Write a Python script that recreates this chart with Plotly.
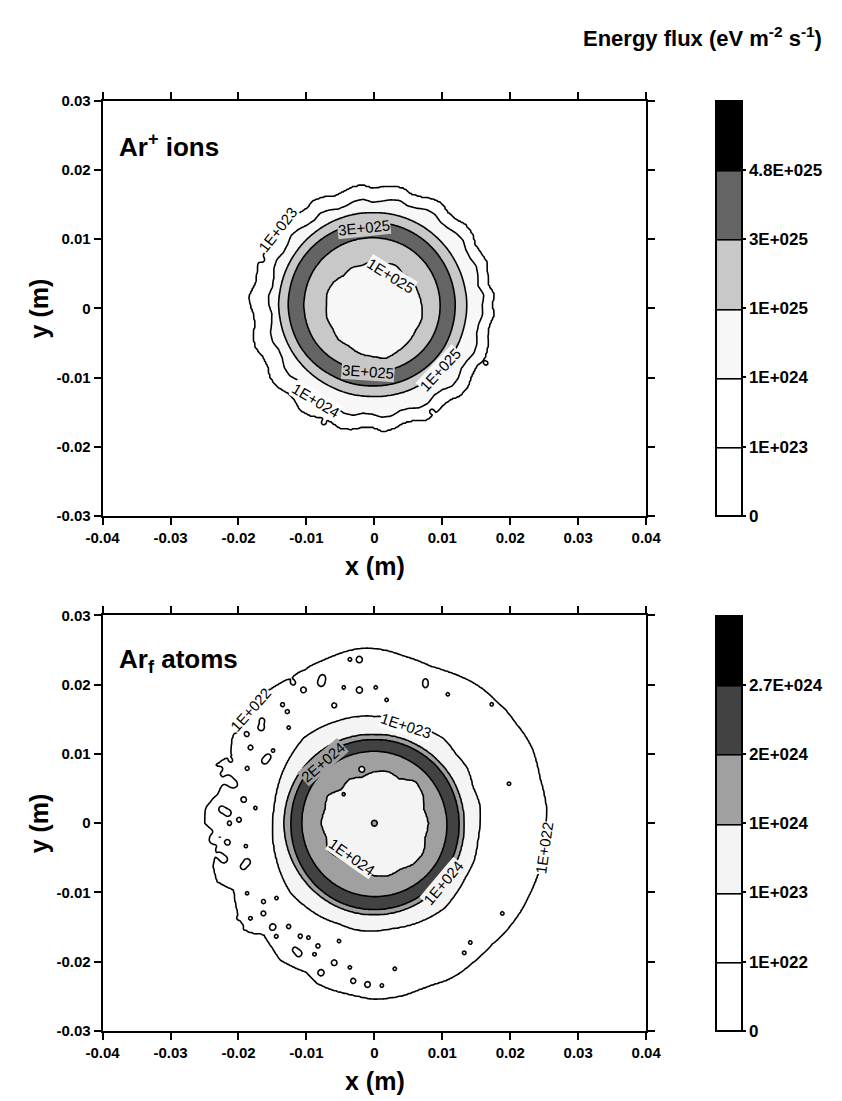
import numpy as np
import plotly.graph_objects as go

FONT = "Liberation Sans, Arial, Helvetica, sans-serif"
W, H = 842, 1101

# ---------------------------------------------------------------- Ar+ ions
ION_LEVELS = [0.0, 1e23, 1e24, 1e25, 3e25, 4.8e25]
ION_COLORS = ["#ffffff", "#ffffff", "#f7f7f7", "#c8c8c8", "#646464", "#000000"]
ION_CENTER_MM = (-0.3, 0.5)
ION_CORE = 5e24
ION_PEAK = 4.2e25
A5 = list(range(0, 360, 5))
A10 = list(range(0, 360, 10))
A15 = list(range(0, 360, 15))
A30 = list(range(0, 360, 30))

# contour radii (mm) versus polar angle, from the centre outwards
ION_R_1E25_IN = [7.3, 7.0, 6.9, 6.4, 6.7, 6.2, 6.3, 5.9, 6.2, 6.0, 6.6, 6.9,
                 6.8, 7.0, 6.8, 7.1, 6.9, 7.3, 7.5, 8.0, 7.7, 7.6, 7.4, 7.6]
ION_R_3E25_IN = [10.0, 9.9, 9.8, 9.7, 9.8, 10.0, 10.1, 10.0, 9.7, 9.6, 9.8, 10.0]
ION_R_3E25_OUT = [12.2, 12.1, 12.0, 11.9, 12.0, 12.3, 12.4, 12.2, 11.8, 11.7, 11.9, 12.2]
ION_R_1E25_OUT = [13.9, 13.7, 13.5, 13.3, 13.4, 13.6, 13.8, 13.6, 13.3, 13.2, 13.5, 13.8]
ION_R_1E24 = [16.2, 16.5, 15.8, 16.1, 16.3, 15.9, 15.9, 16.3, 16.1, 15.7, 15.6, 16.0,
              15.9, 15.4, 15.2, 15.6, 15.4, 15.0, 14.8, 15.3, 15.2, 14.8, 14.7, 15.1,
              15.3, 14.9, 15.0, 15.4, 15.6, 15.2, 15.1, 15.5, 15.4, 15.0, 14.9, 15.3,
              15.2, 14.8, 15.0, 15.5, 15.6, 15.2, 15.3, 15.8, 15.9, 15.4, 15.5, 16.0,
              16.1, 15.6, 15.7, 16.2, 16.2, 15.7, 15.8, 16.3, 16.3, 15.8, 15.9, 16.4,
              16.4, 15.9, 16.0, 16.6, 16.5, 16.0, 16.1, 16.5, 16.4, 15.9, 15.9, 16.3]
ION_R_1E23 = [17.6, 17.9, 17.2, 17.5, 17.9, 17.6, 17.4, 17.9, 17.9, 17.4, 17.3, 17.8,
              17.6, 17.1, 16.9, 17.4, 17.3, 17.0, 16.8, 17.3, 17.2, 16.8, 16.6, 17.1,
              17.3, 16.9, 17.0, 17.5, 17.8, 17.3, 17.1, 17.6, 17.9, 17.5, 17.4, 18.0,
              17.9, 17.4, 17.5, 18.1, 18.2, 17.7, 17.7, 18.3, 18.3, 17.8, 17.8, 18.5,
              18.4, 17.9, 17.9, 18.4, 18.2, 17.7, 17.6, 18.3, 18.1, 17.6, 17.7, 18.4,
              18.3, 17.8, 17.8, 18.4, 18.3, 17.8, 17.7, 18.2, 18.0, 17.5, 17.4, 17.9]
# isolated closed contours: x (mm), y (mm), loop radius (mm), level
ION_SPOTS = [(0.2, 17.3, 0.3, 1e23), (-18.3, 1.5, 0.3, 1e23), (16.5, -8.0, 0.3, 1e23),
             (8.4, -14.8, 0.3, 1e23), (-7.5, -16.6, 0.3, 1e23), (-16.3, 6.9, 0.4, 1e23),
             (-14.7, 10.6, 0.25, 1e23)]

# ---------------------------------------------------------------- Ar_f atoms
ATOM_LEVELS = [0.0, 1e22, 1e23, 1e24, 2e24, 2.7e24]
ATOM_COLORS = ["#ffffff", "#ffffff", "#f4f4f4", "#a0a0a0", "#424242", "#000000"]
ATOM_CENTER_MM = (0.0, 0.0)
ATOM_CORE = 6e23
ATOM_PEAK = 2.4e24
ATOM_R_1E24_IN = [8.0, 7.6, 8.3, 8.6, 7.4, 7.8, 7.5, 6.9, 7.4, 6.9, 8.0, 7.6,
                  7.9, 7.4, 7.9, 7.2, 7.0, 7.3, 7.6, 7.9, 7.7, 8.3, 8.4, 7.8]
ATOM_R_2E24_IN = [10.7, 10.5, 10.4, 10.4, 10.5, 10.7, 10.7, 10.6, 10.6, 10.6, 10.7, 10.8]
ATOM_R_2E24_OUT = [12.5, 12.4, 12.2, 12.1, 12.2, 12.3, 12.3, 12.4, 12.5, 12.5, 12.5, 12.6]
ATOM_R_1E24_OUT = [13.2, 13.1, 12.9, 12.8, 13.0, 13.2, 13.3, 13.2, 13.2, 13.2, 13.2, 13.3]
ATOM_R_1E23 = [15.5, 15.7, 15.4, 15.8, 15.6, 15.9, 15.5, 15.3, 15.5, 15.4, 15.6, 15.7,
               15.9, 16.1, 15.7, 15.4, 15.1, 14.9, 14.9, 15.1, 15.3, 15.6, 15.9, 15.7,
               15.6, 15.4, 15.6, 15.5, 15.4, 15.6, 15.8, 16.0, 15.7, 15.5, 15.6, 15.4]
ATOM_R_1E22 = [25.2, 25.4, 25.3, 25.2, 25.4, 25.6, 25.5, 25.3, 25.3, 25.1, 25.1, 24.9,
               24.6, 24.3, 24.1, 24.3, 24.5, 24.9, 25.2, 25.3, 25.1, 24.8, 24.6, 24.5,
               24.3, 24.5, 24.7, 24.2, 24.6, 23.8, 24.2, 23.2, 24.8, 22.9, 23.6, 24.9,
               24.9, 22.6, 23.8, 24.5, 24.6, 22.8, 23.5, 24.2, 24.3, 22.9, 23.4, 24.1,
               23.9, 23.7, 24.6, 24.8, 24.9, 25.1, 25.4, 25.3, 25.2, 24.9, 24.8, 25.0,
               25.0, 24.8, 24.7, 24.6, 24.8, 24.9, 25.0, 25.0, 25.1, 25.2, 25.3, 25.2]
ATOM_SPOTS = [
    (-2.2, 23.5, 0.45, 1e22), (-3.6, 23.6, 0.25, 1e22), (-10.2, 22.1, 0.3, 1e22),
    (-11.9, 20.2, 0.35, 1e22), (-10.4, 19.2, 0.4, 1e22), (-7.8, 20.2, 0.5, 1e22),
    (-7.6, 21.0, 0.35, 1e22), (-4.5, 19.6, 0.25, 1e22), (-2.2, 19.2, 0.45, 1e22),
    (0.2, 19.6, 0.25, 1e22), (7.5, 19.9, 0.35, 1e22), (7.5, 20.5, 0.3, 1e22),
    (10.8, 18.6, 0.25, 1e22), (17.2, 17.1, 0.25, 1e22), (-5.9, 17.0, 0.35, 1e22),
    (1.8, 17.8, 0.25, 1e22), (-13.5, 17.1, 0.3, 1e22), (-12.8, 16.1, 0.3, 1e22),
    (-12.6, 13.8, 0.25, 1e22), (-16.6, 13.8, 0.45, 1e22), (-16.5, 14.8, 0.35, 1e22),
    (-18.7, 12.8, 0.35, 1e22), (-20.6, 12.8, 0.3, 1e22), (-18.2, 10.9, 0.35, 1e22),
    (-14.9, 10.5, 0.25, 1e22), (-16.1, 9.0, 0.45, 1e22), (-15.6, 9.6, 0.35, 1e22),
    (-18.7, 7.9, 0.3, 1e22), (-21.1, 9.0, 0.3, 1e22), (-22.5, 7.9, 0.35, 1e22),
    (-20.6, 5.7, 0.6, 1e22), (-21.4, 6.5, 0.45, 1e22), (-22.9, 4.3, 0.5, 1e22),
    (-19.2, 3.4, 0.4, 1e22), (-17.5, 2.2, 0.25, 1e22), (-21.5, 1.5, 0.5, 1e22),
    (-22.4, 2.0, 0.4, 1e22), (-19.9, 0.5, 0.35, 1e22), (-21.3, 0.0, 0.3, 1e22),
    (-23.9, -2.3, 0.5, 1e22), (-23.2, -1.6, 0.4, 1e22), (-21.5, -2.8, 0.4, 1e22),
    (-18.9, -3.3, 0.25, 1e22), (-22.0, -5.2, 0.5, 1e22), (-22.7, -4.6, 0.35, 1e22),
    (-18.7, -5.6, 0.5, 1e22), (-19.3, -6.3, 0.35, 1e22), (-18.7, -10.1, 0.25, 1e22),
    (-16.3, -11.3, 0.3, 1e22), (-14.4, -10.8, 0.25, 1e22), (-16.3, -13.0, 0.35, 1e22),
    (-18.2, -13.7, 0.25, 1e22), (-20.1, -13.7, 0.25, 1e22), (-14.9, -14.9, 0.45, 1e22),
    (-12.6, -14.9, 0.3, 1e22), (-19.2, -15.3, 0.25, 1e22), (-16.8, -16.1, 0.25, 1e22),
    (-14.4, -16.3, 0.25, 1e22), (-10.9, -16.3, 0.3, 1e22), (-9.7, -16.5, 0.25, 1e22),
    (-8.3, -17.7, 0.3, 1e22), (-11.1, -18.7, 0.45, 1e22), (-11.7, -18.2, 0.3, 1e22),
    (-8.8, -18.9, 0.25, 1e22), (-5.9, -20.1, 0.4, 1e22), (-7.8, -21.5, 0.4, 1e22),
    (-3.6, -20.8, 0.25, 1e22), (-3.1, -22.7, 0.35, 1e22), (-1.0, -23.2, 0.4, 1e22),
    (1.1, -23.4, 0.25, 1e22), (3.0, -21.0, 0.25, 1e22), (-5.2, -17.0, 0.25, 1e22),
    (19.8, 5.7, 0.25, 1e22), (18.8, -13.0, 0.25, 1e22), (14.1, -17.2, 0.25, 1e22),
    (13.2, -18.7, 0.25, 1e22),
    (-1.9, 7.9, 0.35, 1e24), (-4.5, 4.1, 0.25, 1e24), (0.0, 0.0, 0.4, 1e24),
]

AXIS_X_TICKS = [-0.04, -0.03, -0.02, -0.01, 0.0, 0.01, 0.02, 0.03, 0.04]
AXIS_X_TEXT = ["-0.04", "-0.03", "-0.02", "-0.01", "0", "0.01", "0.02", "0.03", "0.04"]
AXIS_Y_TICKS = [-0.03, -0.02, -0.01, 0.0, 0.01, 0.02, 0.03]
AXIS_Y_TEXT = ["-0.03", "-0.02", "-0.01", "0", "0.01", "0.02", "0.03"]

GRID_STEP_MM = 0.2
xs_mm = np.arange(-40.0, 40.0 + 1e-9, GRID_STEP_MM)
ys_mm = np.arange(-30.0, 30.0 + 1e-9, GRID_STEP_MM)
XX, YY = np.meshgrid(xs_mm, ys_mm)


def sci_label(v):
    if v == 0:
        return "0"
    e = int(np.floor(np.log10(v)))
    m = v / 10.0 ** e
    return f"{m:g}E+{e:03d}"


def level_index(v, levels):
    return float(np.interp(v, levels, np.arange(len(levels))))


def ring_radius(angles, radii, theta):
    a = np.asarray(list(angles) + [angles[0] + 360.0], float)
    r = np.asarray(list(radii) + [radii[0]], float)
    return np.interp(np.mod(theta, 360.0), a, r)


def build_field(center, levels, core, peak, rings, peak_after, spots):
    """Flux field in level-index units (one unit per colour band)."""
    cx, cy = center
    dx, dy = XX - cx, YY - cy
    rr = np.hypot(dx, dy)
    th = np.degrees(np.arctan2(dy, dx))
    knot_r = [np.zeros_like(rr)]
    knot_v = [level_index(core, levels)]
    for k, (val, ang, rad) in enumerate(rings):
        knot_r.append(ring_radius(ang, rad, th))
        knot_v.append(level_index(val, levels))
        if k == peak_after:
            nxt = rings[k + 1]
            knot_r.append(0.5 * (knot_r[-1] + ring_radius(nxt[1], nxt[2], th)))
            knot_v.append(level_index(peak, levels))
    knot_r.append(np.full_like(rr, 70.0))
    knot_v.append(0.0)
    z = np.zeros_like(rr)
    for k in range(len(knot_r) - 1):
        r0, r1 = knot_r[k], knot_r[k + 1]
        m = (rr >= r0) & (rr < r1)
        t = (rr - r0) / np.maximum(r1 - r0, 1e-9)
        z = np.where(m, knot_v[k] + (knot_v[k + 1] - knot_v[k]) * t, z)
    base = z.copy()
    for sx, sy, s, lev in spots:
        i = int(np.argmin(np.abs(ys_mm - sy)))
        j = int(np.argmin(np.abs(xs_mm - sx)))
        depth = (base[i, j] - level_index(lev, levels)) / np.exp(-0.5)
        z = z - depth * np.exp(-((XX - sx) ** 2 + (YY - sy) ** 2) / (2.0 * s * s))
    return z


ion_rings = [(1e25, A15, ION_R_1E25_IN), (3e25, A30, ION_R_3E25_IN),
             (3e25, A30, ION_R_3E25_OUT), (1e25, A30, ION_R_1E25_OUT),
             (1e24, A5, ION_R_1E24), (1e23, A5, ION_R_1E23)]
atom_rings = [(1e24, A15, ATOM_R_1E24_IN), (2e24, A30, ATOM_R_2E24_IN),
              (2e24, A30, ATOM_R_2E24_OUT), (1e24, A30, ATOM_R_1E24_OUT),
              (1e23, A10, ATOM_R_1E23), (1e22, A5, ATOM_R_1E22)]

z_ion = build_field(ION_CENTER_MM, ION_LEVELS, ION_CORE, ION_PEAK, ion_rings, 1, ION_SPOTS)
z_atom = build_field(ATOM_CENTER_MM, ATOM_LEVELS, ATOM_CORE, ATOM_PEAK, atom_rings, 1, ATOM_SPOTS)

# in-line contour labels: ring number, polar angle (deg), radial shift (mm), backing colour
ION_LABELS = [(5, 142, 0.0, "#ffffff"), (2, 96, -0.7, "#c8c8c8"), (0, 58, -1.6, "#f7f7f7"),
              (1, 266, 0.0, "#c8c8c8"), (3, 317, 0.0, "#f7f7f7"), (4, 239, 0.0, "#ffffff")]
ATOM_LABELS = [(5, 138, 0.0, "#ffffff"), (4, 72, -0.5, "#ffffff"), (2, 131, -0.6, "#a0a0a0"),
               (0, 235, -1.2, "#f4f4f4"), (3, 320, 0.0, "#f4f4f4"), (5, 352, 0.0, "#ffffff")]


def px(x):
    return x / W


def py(y):
    return 1.0 - y / H


X_DOMAIN = [px(89), px(654)]
PANELS = [
    dict(z=z_ion, levels=ION_LEVELS, colors=ION_COLORS, rings=ion_rings, center=ION_CENTER_MM,
         labels=ION_LABELS, top=93, bottom=515, xa="x", ya="y",
         name="Ar<sup>+</sup> ions"),
    dict(z=z_atom, levels=ATOM_LEVELS, colors=ATOM_COLORS, rings=atom_rings, center=ATOM_CENTER_MM,
         labels=ATOM_LABELS, top=616, bottom=1038, xa="x2", ya="y2",
         name="Ar<sub>f</sub> atoms"),
]

fig = go.Figure()
annotations = []
tick_font = dict(family=FONT, size=15, color="black", weight="bold")

for n, p in enumerate(PANELS):
    nb = len(p["colors"])
    cscale = []
    for i, c in enumerate(p["colors"]):
        cscale += [[i / nb, c], [(i + 1) / nb, c]]
    top, bottom = p["top"], p["bottom"]
    fig.add_trace(go.Contour(
        x=xs_mm / 1000.0, y=ys_mm / 1000.0, z=p["z"],
        zmin=0, zmax=nb, autocontour=False,
        contours=dict(start=1, end=nb - 1, size=1, coloring="fill", showlines=True),
        line=dict(color="black", width=1.6, smoothing=0.3),
        colorscale=cscale, hoverinfo="skip", xaxis=p["xa"], yaxis=p["ya"],
        colorbar=dict(
            x=px(727), xanchor="left", xpad=0, ypad=0,
            y=py((top + bottom) / 2), yanchor="middle",
            len=(bottom - top) / H, lenmode="fraction",
            thickness=26, thicknessmode="pixels",
            outlinewidth=2, outlinecolor="black",
            tickmode="array", tickvals=list(range(nb)),
            ticktext=[sci_label(v) for v in p["levels"]],
            ticks="outside", ticklen=3, tickwidth=2, tickcolor="black",
            tickfont=dict(family=FONT, size=17, color="black", weight="bold"),
        ),
    ))
    sfx = "" if n == 0 else "2"
    axis_common = dict(showline=True, linewidth=2, linecolor="black", mirror="allticks",
                       ticks="outside", ticklen=7, tickwidth=2, tickcolor="black",
                       showgrid=False, zeroline=False, tickfont=tick_font,
                       tickmode="array", fixedrange=True)
    fig.update_layout(**{
        "xaxis" + sfx: dict(axis_common, domain=X_DOMAIN, range=[-0.04, 0.04],
                            tickvals=AXIS_X_TICKS, ticktext=AXIS_X_TEXT, anchor="y" + sfx),
        "yaxis" + sfx: dict(axis_common, domain=[py(bottom), py(top)], range=[-0.03, 0.03],
                            tickvals=AXIS_Y_TICKS, ticktext=AXIS_Y_TEXT, anchor="x" + sfx),
    })

    # contour labels placed on their rings
    cx, cy = p["center"]
    for ring, ang, dr, bg in p["labels"]:
        val, angs, rads = p["rings"][ring]
        r = float(ring_radius(angs, rads, ang)) + dr
        lx = (cx + r * np.cos(np.radians(ang))) / 1000.0
        ly = (cy + r * np.sin(np.radians(ang))) / 1000.0
        t = (ang + 90) % 180
        if t > 90:
            t -= 180
        annotations.append(dict(x=lx, y=ly, xref=p["xa"], yref=p["ya"], text=sci_label(val),
                                showarrow=False, textangle=-t, bgcolor=bg, borderpad=0,
                                font=dict(family=FONT, size=15, color="black")))

    # panel name, axis titles
    annotations.append(dict(x=px(104), y=py(top + 46), xref="paper", yref="paper",
                            text=p["name"], showarrow=False, xanchor="left", yanchor="middle",
                            font=dict(family=FONT, size=26, color="black", weight="bold")))
    annotations.append(dict(x=px(372), y=py(bottom + 51), xref="paper", yref="paper",
                            text="x (m)", showarrow=False, xanchor="center", yanchor="middle",
                            font=dict(family=FONT, size=25, color="black", weight="bold")))
    annotations.append(dict(x=px(23), y=py((top + bottom) / 2), xref="paper", yref="paper",
                            text="y (m)", showarrow=False, textangle=-90,
                            xanchor="center", yanchor="middle",
                            font=dict(family=FONT, size=25, color="black", weight="bold")))

annotations.append(dict(x=px(839), y=py(28), xref="paper", yref="paper",
                        text="Energy flux (eV m<sup>-2</sup> s<sup>-1</sup>)", showarrow=False,
                        xanchor="right", yanchor="middle",
                        font=dict(family=FONT, size=22, color="black", weight="bold")))

fig.update_layout(width=W, height=H, margin=dict(l=0, r=0, t=0, b=0),
                  paper_bgcolor="white", plot_bgcolor="white", showlegend=False,
                  annotations=annotations)

fig.write_html("out.html")
